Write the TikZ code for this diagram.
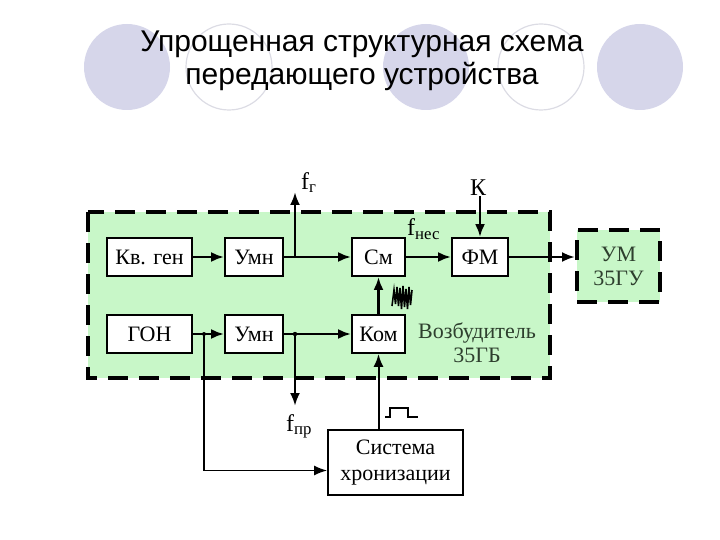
\documentclass[tikz,border=0pt]{standalone}
\usepackage{fontspec}
\setmainfont{Liberation Serif}
\newfontfamily\titlefont{Liberation Sans}
\usetikzlibrary{arrows.meta,positioning}
\definecolor{exciter}{HTML}{C8F7C8}
\definecolor{dotfill}{HTML}{D6D6EA}
\definecolor{dotline}{HTML}{DCDCE4}
\definecolor{labeltext}{HTML}{2E3F2E}

\begin{document}
\begin{tikzpicture}[x=1pt, y=-1pt,
  blk/.style={draw, line width=1.8pt, fill=white, align=center, inner sep=2pt,
              minimum height=38pt, font=\fontsize{22}{23}\selectfont},
  unit/.style={draw, line width=4pt, dash pattern=on 20pt off 11pt, fill=exciter},
  sig/.style={-{Latex[length=13pt,width=10pt]}, line width=2.6pt},
  thinsig/.style={-{Latex[length=13pt,width=10pt]}, line width=1.6pt},
  lbl/.style={font=\fontsize{24}{24}\selectfont, inner sep=0pt}
]
  \useasboundingbox (0,0) rectangle (720,540);

  % ── Title with circles behind ──
  \fill[dotfill] (127,67) circle (43pt);
  \draw[dotline, line width=1.2pt] (229,67) circle (43pt);
  \fill[dotfill] (426,67) circle (43pt);
  \draw[dotline, line width=1.2pt] (541,67) circle (43pt);
  \fill[dotfill] (640,67) circle (43pt);
  \node[font=\titlefont\fontsize{30}{33}\selectfont, align=center] (title) at (362,61)
    {Упрощенная структурная схема\\передающего устройства};

  % ── Exciter and power amplifier ──
  \draw[unit] (88,212) rectangle (550,378);
  \node[unit, minimum width=83pt, minimum height=72pt, align=center,
        font=\fontsize{22}{24}\selectfont, text=labeltext] (um) at (618.5,266) {УМ\\35ГУ};
  \node[align=center, font=\fontsize{22}{24}\selectfont, text=labeltext] (exc) at (477,343)
    {Возбудитель\\35ГБ};

  % ── Upper row ──
  \node[blk, minimum width=85pt] (kvgen) at (149.5,257) {Кв. ген};
  \node[blk, minimum width=58pt] (umn1) at (254,257) {Умн};
  \node[blk, minimum width=53pt] (sm) at (378.5,257) {См};
  \node[blk, minimum width=56pt] (fm) at (480,257) {ФМ};

  % ── Lower row ──
  \node[blk, minimum width=85pt] (gon) at (149.5,334) {ГОН};
  \node[blk, minimum width=58pt] (umn2) at (254,334) {Умн};
  \node[blk, minimum width=53pt] (kom) at (378.5,334) {Ком};

  % ── Sync system ──
  \node[blk, minimum width=135pt, minimum height=65pt,
        font=\fontsize{22}{26}\selectfont] (sync) at (395.5,462.5) {Система\\хронизации};

  % Branch points and free ends
  \coordinate (jg) at (295,257);
  \coordinate (fg) at (295,192);
  \coordinate (jp) at (295,334);
  \coordinate (fp) at (295,406);
  \coordinate (jgon) at (204,334);
  \coordinate (kin) at (480,196);

  \node[lbl, anchor=south west] (fglbl) at (301,193) {f\textsubscript{г}};
  \node[lbl, anchor=north west] (fplbl) at (286,414) {f\textsubscript{пр}};
  \node[lbl, anchor=south west] (fneslbl) at (407,240) {f\textsubscript{нес}};
  \node[lbl, anchor=south] (klbl) at (478,196) {К};

  % Arrows: upper path
  \draw[sig] (kvgen) -- (umn1);
  \draw[sig] (umn1) -- (sm);
  \draw[sig] (jg) -- (fg);
  \draw[sig] (sm) -- (fm);
  \draw[sig] (kin) -- (fm);
  \draw[sig] (fm) -- (fm -| um.west);

  % Arrows: lower path
  \draw[sig] (gon) -- (umn2);
  \draw[sig] (umn2) -- (kom);
  \draw[sig] (jp) -- (fp);
  \draw[sig] (kom) -- (sm);
  \draw[thinsig] (jgon) |- ([yshift=-8pt]sync.west);
  \draw[sig, line width=2pt] (sync.north -| kom) -- (kom);
  \fill (jgon) circle (2pt);
  \fill (jp) circle (2.2pt);

  % noise and pulse marks
  \draw[line width=1.6pt] (392,306) -- (394,290) -- (395.5,304) -- (397,287) -- (398.5,306)
    -- (400,288) -- (401.5,309) -- (403,286) -- (404.5,307) -- (406,289) -- (407.5,309)
    -- (409,287) -- (410.5,305) -- (412,290);
  \draw[line width=1.6pt] (385,417) -- (390,417) -- (390,408) -- (408,408) -- (408,417) -- (418,417);
\end{tikzpicture}
\end{document}
